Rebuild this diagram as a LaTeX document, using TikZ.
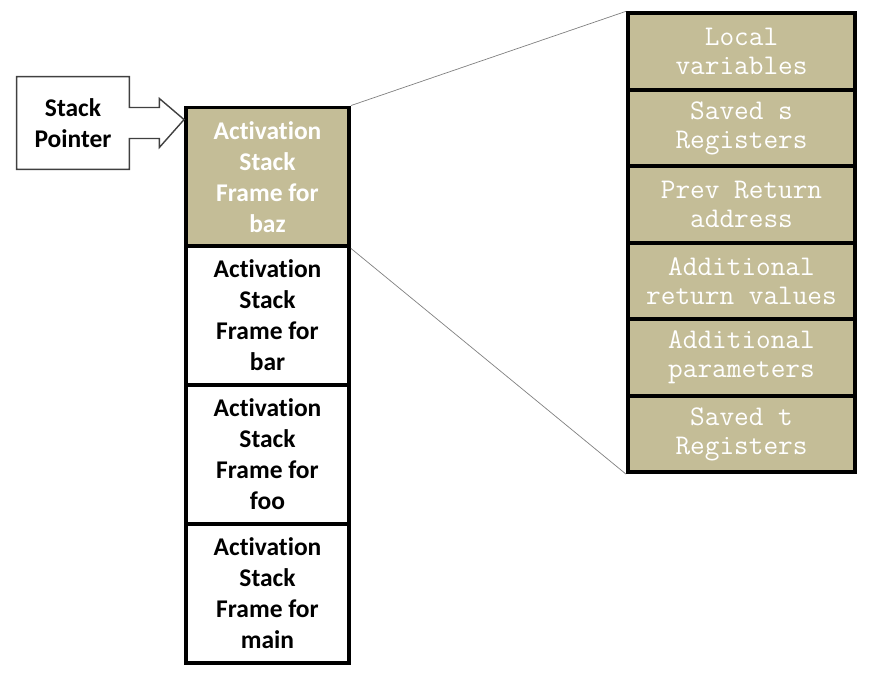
\documentclass[tikz,border=0pt]{standalone}
\usepackage{fontspec}
\setmainfont[Ligatures=NoCommon]{Carlito}
\usetikzlibrary{calc}
\definecolor{khaki}{RGB}{196,189,151}
\tikzset{
  frame/.style={draw, line width=2.2pt, minimum width=3.26cm, minimum height=2.78cm,
    align=center, font=\fontsize{14.5}{17.6}\selectfont\bfseries},
  slot/.style={draw, line width=2.2pt, fill=khaki, text=white, minimum width=4.54cm,
    minimum height=1.53cm, align=center, font=\fontsize{16.2}{16.5}\selectfont\ttfamily},
  top/.style={fill=khaki, text=white}
}
\begin{document}
\begin{tikzpicture}
\useasboundingbox (0,0) rectangle (17.5,13.68);

\node [frame, top] (baz) at (5.35,10.14) {Activation\\Stack\\Frame for\\baz};
\node [frame] (bar) at (5.35,7.37) {Activation\\Stack\\Frame for\\bar};
\node [frame] (foo) at (5.35,4.59) {Activation\\Stack\\Frame for\\foo};
\node [frame] (main) at (5.35,1.81) {Activation\\Stack\\Frame for\\main};

\node [slot] (loc) at (14.83,12.65) {Local\\variables};
\node [slot] (savs) at (14.83,11.12) {Saved s\\Registers};
\node [slot] (ret) at (14.83,9.59) {Prev Return\\address};
\node [slot] (addret) at (14.83,8.06) {Additional\\return values};
\node [slot] (param) at (14.83,6.53) {Additional\\parameters};
\node [slot] (savt) at (14.83,5.00) {Saved t\\Registers};

\node [minimum width=2.24cm, minimum height=1.84cm, align=center,
  font=\fontsize{14.5}{17.6}\selectfont\bfseries] (sp) at (1.46,11.22) {Stack\\Pointer};
\coordinate (tip) at ([yshift=-0.28cm]baz.north west);
\draw [black!75, line width=0.8pt] (sp.north west) -- (sp.north east)
  -- ([yshift=0.31cm]sp.east) -- ++(0.6,0) -- ++(0,0.18) -- (tip)
  -- ([shift={(0.6,-0.49)}]sp.east) -- ++(0,0.18) -- ([yshift=-0.31cm]sp.east)
  -- (sp.south east) -- (sp.south west) -- cycle;

\draw [gray, thin] (baz.north east) -- (loc.north west);
\draw [gray, thin] (baz.south east) -- (savt.south west);

\end{tikzpicture}
\end{document}
